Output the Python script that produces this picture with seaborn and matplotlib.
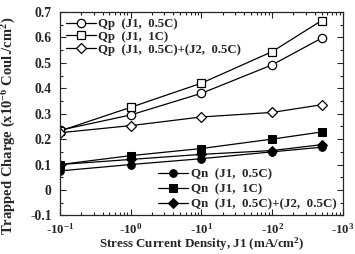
import matplotlib
matplotlib.use('Agg')
from matplotlib import pyplot as plt
from matplotlib.ticker import FixedLocator, LogLocator, MultipleLocator, NullFormatter
import numpy as np
import seaborn as sns

#--- data
current = [0.1, 1, 10, 100, 500]

qp_j1_05 = [0.235, 0.295, 0.380, 0.492, 0.597]
qp_j1_1 = [0.232, 0.325, 0.420, 0.544, 0.666]
qp_j1j2 = [0.225, 0.253, 0.287, 0.305, 0.335]

qn_j1_05 = [0.075, 0.100, 0.123, 0.150, 0.168]
qn_j1_1 = [0.100, 0.135, 0.163, 0.200, 0.228]
qn_j1j2 = [0.100, 0.120, 0.140, 0.155, 0.178]

qp_labels = ['Qp  (J1,  0.5C)', 'Qp  (J1,  1C)', 'Qp  (J1,  0.5C)+(J2,  0.5C)']
qn_labels = ['Qn  (J1,  0.5C)', 'Qn  (J1,  1C)', 'Qn  (J1,  0.5C)+(J2,  0.5C)']
markers = ['o', 's', 'D']

xtick_vals = [0.1, 1, 10, 100, 1000]
xtick_labels = ['-10$^{-1}$', '-10$^{0}$', '-10$^{1}$', '-10$^{2}$', '-10$^{3}$']
ytick_vals = [-0.1, 0, 0.1, 0.2, 0.3, 0.4, 0.5, 0.6, 0.7]
ytick_labels = ['-0.1', '0', '0.1', '0.2', '0.3', '0.4', '0.5', '0.6', '0.7']

#--- style
sns.set_style('ticks')
plt.rcParams['font.family'] = ['Liberation Serif', 'DejaVu Serif']
plt.rcParams['font.weight'] = 'bold'
plt.rcParams['mathtext.fontset'] = 'custom'
plt.rcParams['mathtext.rm'] = 'Liberation Serif:bold'
plt.rcParams['mathtext.default'] = 'rm'

fig = plt.figure(figsize=(3.55, 2.54), dpi=100)
ax = fig.add_axes([0.169, 0.152, 0.797, 0.801])

#--- lines
for vals, lab, m in zip([qp_j1_05, qp_j1_1, qp_j1j2], qp_labels, markers):
    sns.lineplot(x=current, y=vals, ax=ax, color='black', lw=0.9,
                 marker=m, markersize=6 if m != 'D' else 5,
                 markerfacecolor='white', markeredgecolor='black',
                 markeredgewidth=0.9, label=lab, legend=False)
for vals, lab, m in zip([qn_j1_05, qn_j1_1, qn_j1j2], qn_labels, markers):
    sns.lineplot(x=current, y=vals, ax=ax, color='black', lw=0.9,
                 marker=m, markersize=5.5 if m != 'D' else 5,
                 markerfacecolor='black', markeredgecolor='black',
                 label=lab, legend=False)

lines = ax.lines
leg1 = ax.legend(lines[:3], qp_labels, loc='upper left', frameon=False,
                 fontsize=9.2, handlelength=2.3, handletextpad=0.2,
                 labelspacing=0.05, borderaxespad=0.1,
                 bbox_to_anchor=(0.0, 1.0))
ax.add_artist(leg1)
ax.legend(lines[3:6], qn_labels, loc='lower right', frameon=False,
          fontsize=9.4, handlelength=2.3, handletextpad=0.2,
          labelspacing=0.22, borderaxespad=0.0,
          bbox_to_anchor=(0.995, 0.0))

#--- axes
ax.set_xscale('log')
ax.set_xlim(0.1, 1000)
ax.set_ylim(-0.1, 0.7)
ax.xaxis.set_major_locator(FixedLocator(xtick_vals))
ax.set_xticklabels(xtick_labels)
ax.xaxis.set_minor_locator(LogLocator(base=10, subs=np.arange(2, 10)))
ax.xaxis.set_minor_formatter(NullFormatter())
ax.set_yticks(ytick_vals)
ax.set_yticklabels(ytick_labels)
ax.yaxis.set_minor_locator(MultipleLocator(0.05))

ax.tick_params(which='both', direction='in', top=True, right=True,
               labelsize=9.8, width=0.8)
ax.tick_params(which='major', length=4)
ax.tick_params(axis='x', which='major', pad=5, labelsize=9.2)
ax.tick_params(axis='y', which='major', pad=6)
ax.tick_params(which='minor', length=2)
for s in ax.spines.values():
    s.set_linewidth(0.9)

ax.set_xlabel('Stress Current Density, J1 (mA/cm$^{2}$)', fontsize=9.4,
              fontweight='bold', va='center')
ax.xaxis.set_label_coords(0.5, -0.143)
ax.set_ylabel('Trapped Charge (x10$^{-6}$ Coul./cm$^{2}$)', fontsize=10.5,
              fontweight='bold', va='center')
ax.yaxis.set_label_coords(-0.18, 0.44)

plt.savefig('out.png', dpi=100)
plt.close()
